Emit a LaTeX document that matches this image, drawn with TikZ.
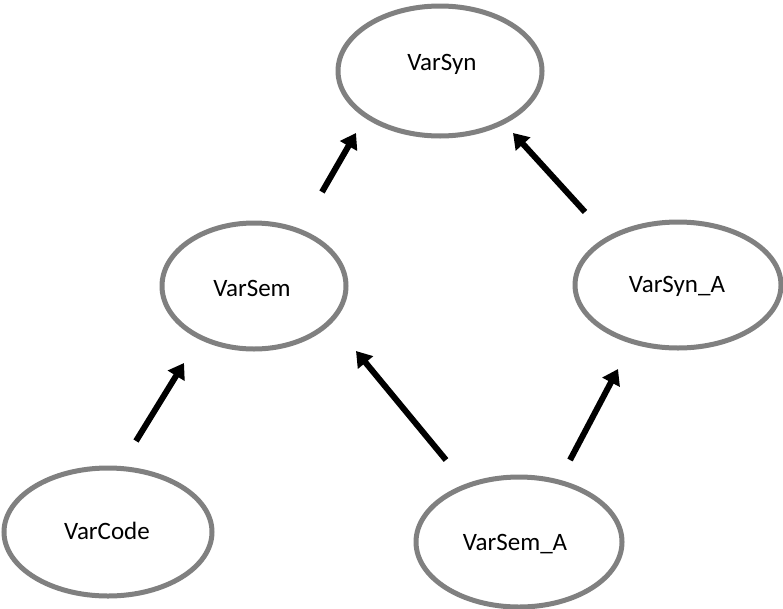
\documentclass[tikz,border=0pt]{standalone}
\usepackage{fontspec}
\setmainfont{Carlito}
\usetikzlibrary{arrows.meta,shapes.geometric}
\definecolor{ringgray}{RGB}{128,128,128}
\tikzset{
  ring/.style={ellipse, draw=ringgray, line width=5pt, inner sep=0pt},
  caption/.style={font=\fontsize{25}{30}\selectfont, text=black, inner sep=0pt},
  link/.style={line width=6pt, -{Triangle[length=15pt,width=19pt]}},
}
\begin{document}
\begin{tikzpicture}[x=1pt,y=-1pt]
  \useasboundingbox[fill=white] (0,0) rectangle (783,608);

  % ellipses
  \node[ring, minimum width=204pt, minimum height=130pt] (syn)   at (440,71)  {};
  \node[ring, minimum width=184pt, minimum height=126pt] (sem)   at (254,286) {};
  \node[ring, minimum width=206pt, minimum height=126pt] (synA)  at (678,285) {};
  \node[ring, minimum width=208pt, minimum height=128pt] (code)  at (108,532) {};
  \node[ring, minimum width=206pt, minimum height=130pt] (semA)  at (519,542) {};

  % labels
  \node[caption] (synT)  at (442,64)  {VarSyn};
  \node[caption] (semT)  at (252,288) {VarSem};
  \node[caption] (synAT) at (677,286) {VarSyn\_A};
  \node[caption] (codeT) at (107,531) {VarCode};
  \node[caption] (semAT) at (515,544) {VarSem\_A};

  % arrow ends
  \coordinate (a1s) at (322,192); \coordinate (a1e) at (356,133);
  \coordinate (a2s) at (585,212); \coordinate (a2e) at (513,133);
  \coordinate (a3s) at (136,441); \coordinate (a3e) at (184,363);
  \coordinate (a4s) at (446,460); \coordinate (a4e) at (356,351);
  \coordinate (a5s) at (570,460); \coordinate (a5e) at (618,369);

  \draw[link] (a1s) -- (a1e);
  \draw[link] (a2s) -- (a2e);
  \draw[link] (a3s) -- (a3e);
  \draw[link] (a4s) -- (a4e);
  \draw[link] (a5s) -- (a5e);
\end{tikzpicture}
\end{document}
